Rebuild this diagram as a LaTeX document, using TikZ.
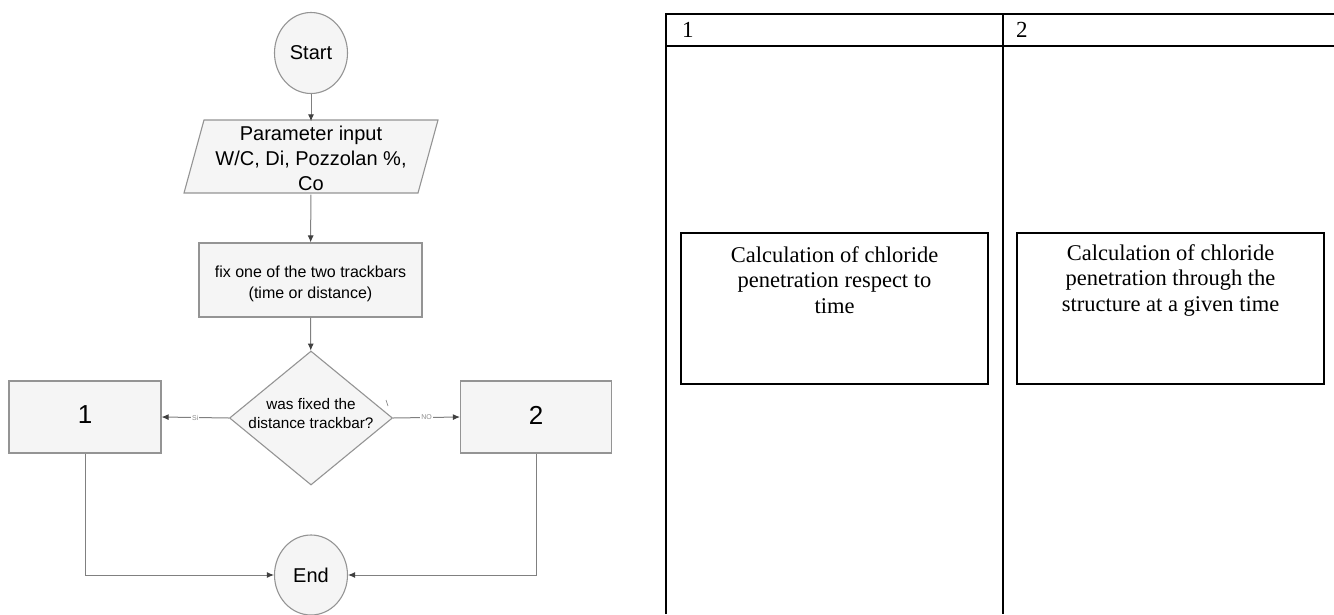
\documentclass[tikz,border=0pt]{standalone}
\usepackage{fontspec}
\setmainfont{Liberation Serif}
\newfontfamily\flowfont{Liberation Sans}
\usetikzlibrary{shapes.geometric,arrows.meta}
\begin{document}
\begin{tikzpicture}[x=1pt,y=-1pt,
  flowshape/.style={draw=black!42, line width=1.1pt, fill=black!4},
  conn/.style={draw=black!50, line width=1pt, -{Latex[length=7pt,width=6pt,fill=black!75,color=black!75]}},
  lbl/.style={fill=white, inner sep=1pt, text=black!45, font=\flowfont\fontsize{7}{8}\selectfont},
  bigtxt/.style={font=\flowfont\fontsize{20}{25}\selectfont, align=center},
  smalltxt/.style={font=\flowfont\fontsize{16}{21}\selectfont, align=center},
  tbl/.style={draw=black, line width=2.6pt},
  cbox/.style={draw=black, line width=1.6pt, minimum width=307pt, minimum height=151pt, inner sep=0pt},
  ctext/.style={font=\fontsize{22.5}{25.5}\selectfont, align=center}
]
\useasboundingbox (0,0) rectangle (1334,614);
% ---------- flowchart ----------
\node[flowshape, ellipse, minimum width=73pt, minimum height=81pt, inner sep=0pt, bigtxt] (start) at (311,53) {Start};
\draw[flowshape] (204,120) -- (438,120) -- (418,193) -- (184,193) -- cycle;
\node[minimum width=234pt, minimum height=73pt, inner sep=0pt, bigtxt] (param) at (311,158) {Parameter input\\W/C, Di, Pozzolan \%,\\Co};
\node[flowshape, rectangle, minimum width=223pt, minimum height=74pt, inner sep=0pt] (fix) at (310.5,280) {};
\node[smalltxt] (fixtxt) at (310.5,284) {fix one of the two trackbars\\(time or distance)};
\node[flowshape, diamond, minimum width=163pt, minimum height=134pt, inner sep=0pt] (dec) at (311,418) {};
\node[font=\flowfont\fontsize{15.3}{19}\selectfont, align=center] (dectxt) at (311,413.5) {was fixed the\\distance trackbar?};
\node[flowshape, rectangle, minimum width=152pt, minimum height=72pt, inner sep=0pt, font=\flowfont\fontsize{26}{30}\selectfont] (b1) at (85,417) {\raisebox{4pt}{1}};
\node[flowshape, rectangle, minimum width=151pt, minimum height=72pt, inner sep=0pt, font=\flowfont\fontsize{26}{30}\selectfont] (b2) at (536,417) {\raisebox{4pt}{2}};
\node[flowshape, ellipse, minimum width=73pt, minimum height=80pt, inner sep=0pt, bigtxt] (end) at (311,575) {End};
\draw[conn] (start) -- (param);
\draw[conn] (param) -- (fix);
\draw[conn] (fix) -- (dec);
\draw[conn] (dec.west) -- node[lbl] (si) {Si} (b1.east);
\draw[conn] (dec.east) -- node[lbl] (no) {NO} (b2.west);
\draw[conn] (b1.south) |- (end.west);
\draw[conn] (b2.south) |- (end.east);
\coordinate (tk1) at (386,400);
\coordinate (tk2) at (388,406);
\draw[draw=black!55, line width=0.6pt] (tk1) -- (tk2);
% ---------- table ----------
\coordinate (tl) at (666,14);
\coordinate (bl) at (666,614);
\coordinate (tr) at (1340,14);
\coordinate (hl) at (666,46);
\coordinate (hr) at (1340,46);
\coordinate (dt) at (1003,14);
\coordinate (db) at (1003,614);
\draw[tbl] (bl) -- (tl) -- (tr);
\draw[tbl] (hl) -- (hr);
\draw[tbl] (dt) -- (db);
\node[anchor=west, inner sep=0pt, font=\fontsize{23}{27}\selectfont] (h1) at (682,30) {1};
\node[anchor=west, inner sep=0pt, font=\fontsize{23}{27}\selectfont] (h2) at (1016,30) {2};
\node[cbox] (c1) at (834.5,308.5) {};
\node[cbox] (c2) at (1170.5,308.5) {};
\node[ctext] (t1) at (834.5,280) {Calculation of chloride\\penetration respect to\\time};
\node[ctext] (t2) at (1170.5,280) {Calculation of chloride\\penetration through the\\structure at a given time};
\end{tikzpicture}
\end{document}
